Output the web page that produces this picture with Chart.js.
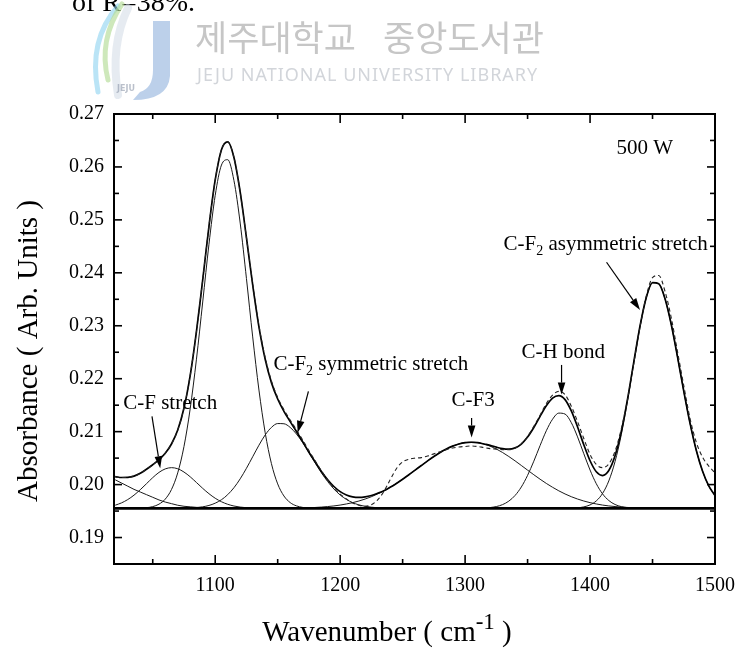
<!DOCTYPE html>
<html>
<head>
<meta charset="utf-8">
<script src="https://cdn.jsdelivr.net/npm/chart.js@4.4.1/dist/chart.umd.min.js"></script>
<style>
  html, body { margin: 0; padding: 0; background: #fff; }
  #wrap { width: 739px; height: 654px; }
</style>
</head>
<body>
<div id="wrap"><canvas id="spectrum" width="739" height="654"></canvas></div>
<script>
// FTIR spectrum, 500 W film, with fitted component peaks
const gridStep = 5;

const xTicks = [1100, 1200, 1300, 1400, 1500];
const xMinorTicks = [1050, 1150, 1250, 1350, 1450];
const yTicks = [0.19, 0.20, 0.21, 0.22, 0.23, 0.24, 0.25, 0.26, 0.27];
const yMinorTicks = [0.195, 0.205, 0.215, 0.225, 0.235, 0.245, 0.255, 0.265];

const baselineLevel = 0.1955;

// measured spectrum (dashed) and fitted sum (solid), 1020..1500 every 5 cm-1
const spectrumStart = 1020;
const fitSum = [
  0.20151, 0.20134, 0.20137, 0.2016, 0.20213, 0.2029, 0.20375, 0.2047, 0.20591, 0.20767,
  0.2103, 0.21446, 0.22064, 0.22894, 0.23868, 0.24879, 0.25754, 0.26326, 0.26475, 0.26179,
  0.25524, 0.24664, 0.23771, 0.2298, 0.22368, 0.21926, 0.21616, 0.21384, 0.2119, 0.21004,
  0.20812, 0.20612, 0.20428, 0.20248, 0.20092, 0.19964, 0.19867, 0.19804, 0.19768, 0.19757,
  0.19767, 0.19794, 0.19835, 0.19882, 0.19949, 0.20022, 0.20102, 0.20186, 0.20273, 0.20361,
  0.20448, 0.2053, 0.20606, 0.20672, 0.20726, 0.20767, 0.20792, 0.208, 0.20792, 0.20767,
  0.20742, 0.20707, 0.20678, 0.20668, 0.20693, 0.20766, 0.20897, 0.21078, 0.21289, 0.21489,
  0.21634, 0.21682, 0.21605, 0.21391, 0.21089, 0.20752, 0.2045, 0.20242, 0.2017, 0.20265,
  0.20543, 0.21002, 0.21615, 0.22315, 0.22995, 0.23534, 0.23813, 0.23792, 0.2351, 0.23023,
  0.22411, 0.21765, 0.2116, 0.2065, 0.20256, 0.19975, 0.19791
];
const measured = [
  0.20151, 0.20134, 0.20137, 0.2016, 0.20213, 0.2029, 0.20375, 0.2047, 0.20591, 0.20767,
  0.2103, 0.21446, 0.22064, 0.22894, 0.23868, 0.24879, 0.25754, 0.26326, 0.26475, 0.26179,
  0.25524, 0.24664, 0.23791, 0.2300, 0.22398, 0.21956, 0.21646, 0.21414, 0.2122, 0.21034,
  0.20842, 0.20642, 0.20448, 0.20258, 0.20092, 0.1993, 0.1982, 0.1973, 0.1965, 0.1961,
  0.1959, 0.1962, 0.1971, 0.1987, 0.2009, 0.2030, 0.2043, 0.2048, 0.2050, 0.2051,
  0.2054, 0.2058, 0.2062, 0.2066, 0.2069, 0.2071, 0.2072, 0.2073, 0.2072, 0.2070,
  0.2068, 0.2067, 0.2066, 0.2066, 0.2069, 0.2077, 0.2091, 0.2110, 0.2131, 0.2153,
  0.2169, 0.2176, 0.2170, 0.2148, 0.2119, 0.2087, 0.2057, 0.2038, 0.2032, 0.2039,
  0.2063, 0.2105, 0.2161, 0.2229, 0.2298, 0.2356, 0.2391, 0.2395, 0.2365, 0.2315,
  0.2251, 0.2187, 0.2125, 0.2080, 0.2052, 0.2035, 0.2022
];

// fitted components, each listed from its own start wavenumber
const edgeStart = 1020;
const edgeBand = [0.2009, 0.2003, 0.1997, 0.1991, 0.1986, 0.1981, 0.1976, 0.1971, 0.1967, 0.1964,
  0.1961, 0.1959, 0.1958, 0.1957, 0.1956, 0.19555];

const cfStart = 1020;
const cfBand = [0.19611, 0.19654, 0.19717, 0.198, 0.19903, 0.20017, 0.20131, 0.2023, 0.20296, 0.2032,
  0.20299, 0.20237, 0.20147, 0.20039, 0.19929, 0.19828, 0.19742, 0.19676, 0.19628, 0.19595,
  0.19575, 0.19563, 0.19556, 0.1955];

const mainStart = 1040;
const mainBand = [0.19552, 0.19563, 0.19584, 0.1963, 0.19725, 0.19907, 0.20221, 0.20719, 0.21437, 0.22369,
  0.23449, 0.2454, 0.25463, 0.26036, 0.26137, 0.25743, 0.2494, 0.23893, 0.22789, 0.21786,
  0.2098, 0.20396, 0.20013, 0.19785, 0.1966, 0.19598, 0.19569, 0.19557, 0.1955];

const cf2SymStart = 1080;
const cf2SymBand = [0.19555, 0.19566, 0.1958, 0.19606, 0.19649, 0.19714, 0.1981, 0.19941, 0.20109, 0.20308,
  0.20526, 0.20744, 0.20938, 0.2108, 0.21153, 0.21149, 0.2108, 0.20956, 0.20793, 0.20605,
  0.2041, 0.20223, 0.20057, 0.19917, 0.19804, 0.1972, 0.19659, 0.19617, 0.1959, 0.19573,
  0.19562, 0.19556];

const cf3Start = 1180;
const cf3Band = [0.19568, 0.19575, 0.19585, 0.19597, 0.19613, 0.19634, 0.19659, 0.1969, 0.19727, 0.19771,
  0.19823, 0.19882, 0.19949, 0.20022, 0.20102, 0.20186, 0.20273, 0.20361, 0.20448, 0.2053,
  0.20606, 0.20672, 0.20726, 0.20767, 0.20792, 0.208, 0.20792, 0.20767, 0.20726, 0.20672,
  0.20606, 0.2053, 0.20448, 0.20361, 0.20273, 0.20186, 0.20102, 0.20022, 0.19949, 0.19882,
  0.19823, 0.19771, 0.19727, 0.1969, 0.19659, 0.19634, 0.19613, 0.19597, 0.19585, 0.19575,
  0.19568, 0.19563, 0.19559, 0.19556];

const chStart = 1320;
const chBand = [0.19566, 0.19585, 0.19622, 0.19688, 0.19795, 0.19955, 0.20174, 0.20442, 0.20737, 0.21017,
  0.21235, 0.2135, 0.21332, 0.2117, 0.20901, 0.20583, 0.20275, 0.20016, 0.19825, 0.19699,
  0.19624, 0.19584, 0.19564, 0.19555];

const cf2AsymStart = 1385;
const cf2AsymBand = [0.19555, 0.19561, 0.19579, 0.19616, 0.19692, 0.19832, 0.20069, 0.20434, 0.20943, 0.21583,
  0.22297, 0.22985, 0.23528, 0.23813, 0.23792, 0.2351, 0.23023, 0.22411, 0.21765, 0.2116,
  0.2065, 0.20256, 0.19975, 0.19791];

const xRange = [1019, 1500];
const yRange = [0.185, 0.27];

function toPoints(start, values) {
  return values.map((v, i) => ({ x: start + i * gridStep, y: v }));
}

const serif = '"Liberation Serif", "Times New Roman", serif';

// labels with arrows, placed in data coordinates
const notes = [
  { parts: [['C-F stretch']], at: [1026.4, 0.2153], arrow: [[1049.4, 0.2129], [1056, 0.2031]] },
  { parts: [['C-F'], ['2', 'sub'], [' symmetric stretch']], at: [1146.6, 0.2226], arrow: [[1174.6, 0.2176], [1166, 0.2098]] },
  { parts: [['C-F3']], at: [1289.2, 0.2159], arrow: [[1305.2, 0.2126], [1305.2, 0.2089]] },
  { parts: [['C-H bond']], at: [1345.2, 0.2249], arrow: [[1377.2, 0.2226], [1377.2, 0.2170]] },
  { parts: [['C-F'], ['2', 'sub'], [' asymmetric stretch']], at: [1330.8, 0.2453], arrow: [[1413.2, 0.2420], [1440, 0.2330]] },
  { parts: [['500 W']], at: [1421.2, 0.2635] }
];

function partsWidth(ctx, parts, size, subScale) {
  let w = 0;
  parts.forEach(([t, kind]) => {
    ctx.font = (kind ? Math.round(size * subScale) : size) + 'px ' + serif;
    w += ctx.measureText(t).width;
  });
  return w;
}

function drawParts(ctx, x, y, parts, size, subScale = 0.65) {
  let cx = x;
  parts.forEach(([t, kind]) => {
    const s = kind ? Math.round(size * subScale) : size;
    ctx.font = s + 'px ' + serif;
    const dy = kind === 'sub' ? size * 0.3 : kind === 'sup' ? -size * 0.42 : 0;
    ctx.fillText(t, cx, y + dy);
    cx += ctx.measureText(t).width;
  });
  return cx - x;
}

function drawArrow(ctx, x1, y1, x2, y2) {
  const a = Math.atan2(y2 - y1, x2 - x1);
  const len = 12, w = 3.8;
  const bx = x2 - len * Math.cos(a), by = y2 - len * Math.sin(a);
  ctx.beginPath();
  ctx.moveTo(x1, y1);
  ctx.lineTo(bx, by);
  ctx.stroke();
  ctx.beginPath();
  ctx.moveTo(x2, y2);
  ctx.lineTo(bx + w * Math.sin(a), by - w * Math.cos(a));
  ctx.lineTo(bx - w * Math.sin(a), by + w * Math.cos(a));
  ctx.closePath();
  ctx.fill();
}

// page header: library watermark and cut-off line of text
const headerPlugin = {
  id: 'header',
  beforeDraw(chart) {
    const ctx = chart.ctx;
    ctx.save();
    ctx.fillStyle = '#fff';
    ctx.fillRect(0, 0, chart.width, chart.height);

    ctx.fillStyle = '#000';
    ctx.font = '28px ' + serif;
    ctx.textBaseline = 'alphabetic';
    ctx.fillText('of R=38%.', 72, 11);

    // logo swooshes
    ctx.lineCap = 'round';
    ctx.lineWidth = 5;
    ctx.strokeStyle = 'rgba(140,210,240,0.6)';
    ctx.beginPath(); ctx.moveTo(118, 6); ctx.quadraticCurveTo(88, 40, 98, 92); ctx.stroke();
    ctx.strokeStyle = 'rgba(180,220,150,0.65)';
    ctx.beginPath(); ctx.moveTo(122, 4); ctx.quadraticCurveTo(98, 40, 108, 80); ctx.stroke();
    ctx.strokeStyle = 'rgba(210,218,230,0.55)';
    ctx.lineWidth = 8;
    ctx.beginPath(); ctx.moveTo(128, 8); ctx.quadraticCurveTo(110, 45, 118, 95); ctx.stroke();
    ctx.fillStyle = 'rgba(160,188,225,0.7)';
    ctx.beginPath();
    ctx.moveTo(153, 21); ctx.lineTo(170, 21); ctx.lineTo(170, 76);
    ctx.quadraticCurveTo(168, 100, 133, 100); ctx.lineTo(140, 92);
    ctx.quadraticCurveTo(153, 88, 153, 70); ctx.closePath(); ctx.fill();
    ctx.fillStyle = 'rgba(130,140,160,0.55)';
    ctx.font = 'bold 8px "DejaVu Sans"';
    ctx.fillText('JEJU', 117, 91);

    ctx.fillStyle = '#c6c6c6';
    ctx.font = '35px "Noto Sans CJK KR"';
    ctx.textBaseline = 'middle';
    ctx.fillText('제주대학교', 195, 38);
    ctx.fillText('중앙도서관', 383, 38);
    ctx.fillStyle = '#d2d5da';
    ctx.font = '18px "Noto Sans"';
    ctx.letterSpacing = '1px';
    ctx.fillText('JEJU NATIONAL UNIVERSITY LIBRARY', 197, 76);
    ctx.letterSpacing = '0px';
    ctx.restore();
  }
};

// frame, inward ticks, labels, titles and peak annotations
const framePlugin = {
  id: 'frame',
  afterDatasetsDraw(chart) {
    const ctx = chart.ctx;
    const xs = chart.scales.x, ys = chart.scales.y, area = chart.chartArea;
    ctx.save();
    ctx.strokeStyle = '#000';
    ctx.fillStyle = '#000';

    const seg = (x1, y1, x2, y2) => { ctx.beginPath(); ctx.moveTo(x1, y1); ctx.lineTo(x2, y2); ctx.stroke(); };
    ctx.lineWidth = 1.6;
    xTicks.forEach(v => { const p = xs.getPixelForValue(v); seg(p, area.bottom, p, area.bottom - 9); seg(p, area.top, p, area.top + 9); });
    xMinorTicks.forEach(v => { const p = xs.getPixelForValue(v); seg(p, area.bottom, p, area.bottom - 5); seg(p, area.top, p, area.top + 5); });
    yTicks.forEach(v => { const p = ys.getPixelForValue(v); seg(area.left, p, area.left + 8, p); seg(area.right, p, area.right - 8, p); });
    yMinorTicks.forEach(v => { const p = ys.getPixelForValue(v); seg(area.left, p, area.left + 5, p); seg(area.right, p, area.right - 5, p); });

    ctx.lineWidth = 2;
    ctx.strokeRect(area.left, area.top, area.right - area.left, area.bottom - area.top);

    ctx.font = '20px ' + serif;
    ctx.textBaseline = 'middle';
    ctx.textAlign = 'center';
    xTicks.forEach(v => ctx.fillText(String(v), xs.getPixelForValue(v), area.bottom + 22));
    ctx.textAlign = 'right';
    yTicks.forEach(v => ctx.fillText(v.toFixed(2), area.left - 10, ys.getPixelForValue(v)));

    // axis titles
    ctx.textAlign = 'left';
    ctx.textBaseline = 'alphabetic';
    const xt = [['Wavenumber ( cm'], ['-1', 'sup'], [' )']];
    const w = partsWidth(ctx, xt, 29, 0.8);
    drawParts(ctx, 387 - w / 2, 641, xt, 29, 0.8);

    ctx.translate(37, 351);
    ctx.rotate(-Math.PI / 2);
    ctx.textAlign = 'center';
    ctx.font = '29px ' + serif;
    ctx.fillText('Absorbance ( Arb. Units )', 0, 0);
    ctx.setTransform(1, 0, 0, 1, 0, 0);

    // annotations
    ctx.textAlign = 'left';
    ctx.textBaseline = 'middle';
    ctx.lineWidth = 1.2;
    notes.forEach(n => {
      drawParts(ctx, xs.getPixelForValue(n.at[0]), ys.getPixelForValue(n.at[1]), n.parts, 21);
      if (n.arrow) {
        const [a, b] = n.arrow;
        drawArrow(ctx, xs.getPixelForValue(a[0]), ys.getPixelForValue(a[1]),
          xs.getPixelForValue(b[0]), ys.getPixelForValue(b[1]));
      }
    });
    ctx.restore();
  }
};

const thin = { borderColor: '#1a1a1a', borderWidth: 1, pointRadius: 0, fill: false, cubicInterpolationMode: 'monotone' };

new Chart(document.getElementById('spectrum'), {
  type: 'line',
  data: {
    datasets: [
      { label: 'Measured', data: toPoints(spectrumStart, measured), borderColor: '#222', borderWidth: 1.1,
        borderDash: [4, 3], pointRadius: 0, fill: false, cubicInterpolationMode: 'monotone', order: 1 },
      { label: 'Fit', data: toPoints(spectrumStart, fitSum), borderColor: '#000', borderWidth: 1.7,
        pointRadius: 0, fill: false, cubicInterpolationMode: 'monotone', order: 2 },
      { label: 'Edge band', data: toPoints(edgeStart, edgeBand), ...thin, order: 3 },
      { label: 'C-F stretch', data: toPoints(cfStart, cfBand), ...thin, order: 3 },
      { label: 'Main band', data: toPoints(mainStart, mainBand), ...thin, order: 3 },
      { label: 'C-F2 symmetric stretch', data: toPoints(cf2SymStart, cf2SymBand), ...thin, order: 3 },
      { label: 'C-F3', data: toPoints(cf3Start, cf3Band), ...thin, order: 3 },
      { label: 'C-H bond', data: toPoints(chStart, chBand), ...thin, order: 3 },
      { label: 'C-F2 asymmetric stretch', data: toPoints(cf2AsymStart, cf2AsymBand), ...thin, order: 3 },
      { label: 'Baseline', data: [{ x: xRange[0], y: baselineLevel }, { x: xRange[1], y: baselineLevel }],
        borderColor: '#000', borderWidth: 2.6, pointRadius: 0, fill: false, order: 0 }
    ]
  },
  options: {
    responsive: false,
    devicePixelRatio: 1,
    animation: false,
    events: [],
    layout: { padding: { left: 0, top: 114, right: 24, bottom: 0 } },
    plugins: { legend: { display: false }, tooltip: { enabled: false } },
    scales: {
      x: {
        type: 'linear', min: xRange[0], max: xRange[1],
        grid: { display: false }, border: { display: false }, ticks: { display: false },
        afterFit: s => { s.height = 90; }
      },
      y: {
        type: 'linear', min: yRange[0], max: yRange[1],
        grid: { display: false }, border: { display: false }, ticks: { display: false },
        afterFit: s => { s.width = 114; }
      }
    }
  },
  plugins: [headerPlugin, framePlugin]
});
</script>
</body>
</html>
